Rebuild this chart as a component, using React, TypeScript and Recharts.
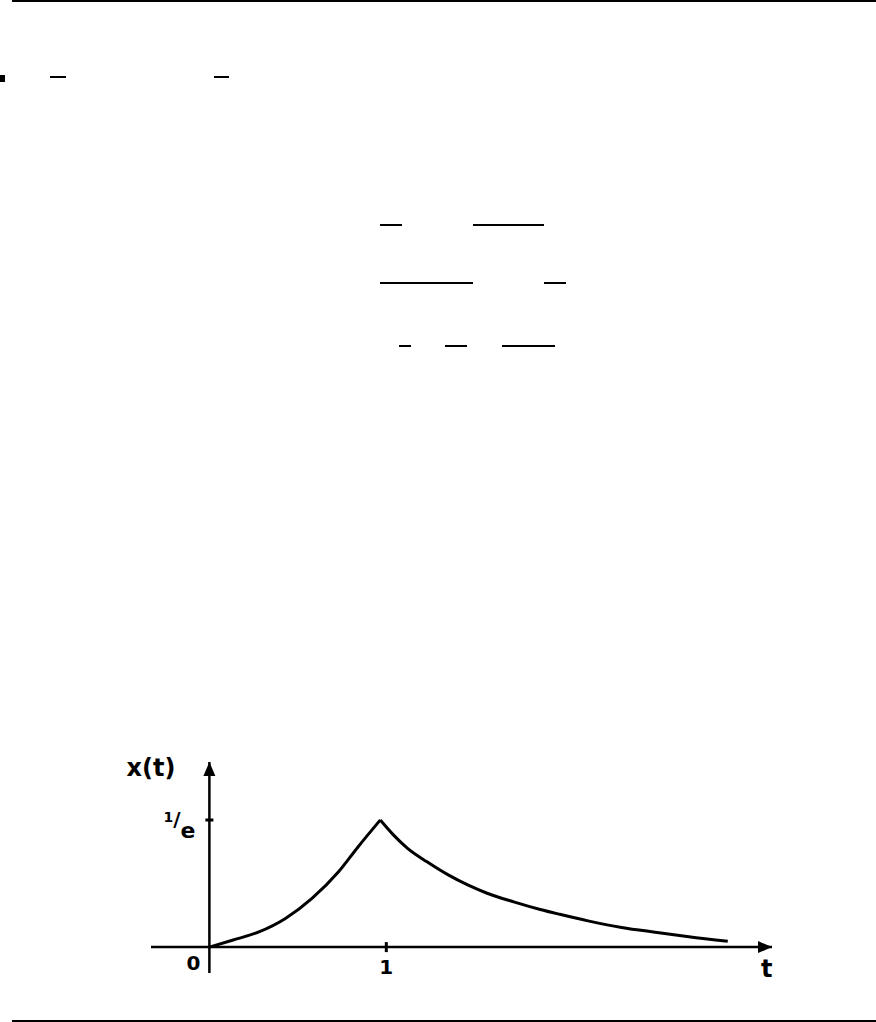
import React from "react";
import {
  ComposedChart,
  Line,
  XAxis,
  YAxis,
  ReferenceLine,
  ReferenceDot,
} from "recharts";

// sketch: x(t) rises to 1/e at t = 1, then decays
const riseT = [0, 0.13, 0.28, 0.43, 0.58, 0.73, 0.84, 0.966];
const riseX = [0, 0.02, 0.044, 0.083, 0.141, 0.218, 0.29, 0.368];
const fallT = [0.966, 1.04, 1.12, 1.23, 1.35, 1.46, 1.57, 1.72, 1.87, 1.98, 2.14, 2.33, 2.52, 2.71, 2.93];
const fallX = [0.368, 0.325, 0.286, 0.247, 0.209, 0.18, 0.156, 0.131, 0.109, 0.095, 0.076, 0.057, 0.043, 0.03, 0.017];

const tDomain: [number, number] = [-0.33, 3.18];
const xDomain: [number, number] = [-0.075, 0.536];
const peakValue = 0.368;

const rise = riseT.map((t, i) => ({ t, x: riseX[i] }));
const fall = fallT.map((t, i) => ({ t, x: fallX[i] }));

// leftover rules of the scanned page (text removed)
const rules = [
  { left: 50, top: 76, width: 16 },
  { left: 214, top: 76, width: 15 },
  { left: 380, top: 224, width: 22 },
  { left: 473, top: 224, width: 71 },
  { left: 380, top: 282, width: 93 },
  { left: 544, top: 282, width: 22 },
  { left: 399, top: 345, width: 12 },
  { left: 445, top: 345, width: 22 },
  { left: 502, top: 345, width: 53 },
];

const hand = { fontFamily: "DejaVu Sans", fontWeight: 700, fill: "#000" };

const ArrowUp = (p: any) => (
  <path d={`M${p.cx},${p.cy} L${p.cx - 6},${p.cy + 14} L${p.cx + 6},${p.cy + 14} Z`} fill="#000" />
);
const ArrowRight = (p: any) => (
  <path d={`M${p.cx},${p.cy} L${p.cx - 14},${p.cy - 6} L${p.cx - 14},${p.cy + 6} Z`} fill="#000" />
);
const YTick = (p: any) => (
  <g>
    <line x1={p.cx - 4} y1={p.cy} x2={p.cx + 4} y2={p.cy} stroke="#000" strokeWidth={3} />
    <text x={p.cx - 46} y={p.cy + 2} {...hand}>
      <tspan fontSize={14}>1</tspan>
      <tspan fontSize={20} dy={4}>/</tspan>
      <tspan fontSize={22} dy={12}>e</tspan>
    </text>
  </g>
);
const XTick = (p: any) => (
  <g>
    <line x1={p.cx} y1={p.cy - 5} x2={p.cx} y2={p.cy + 5} stroke="#000" strokeWidth={3} />
    <text x={p.cx} y={p.cy + 27} fontSize={20} textAnchor="middle" {...hand}>1</text>
  </g>
);
const label = (s: string, size: number) => (p: any) => (
  <text x={p.cx} y={p.cy} fontSize={size} textAnchor="middle" dominantBaseline="central" {...hand}>
    {s}
  </text>
);

export default function App() {
  return (
    <div style={{ position: "absolute", left: 0, top: 0, width: 876, height: 1022, background: "#fff" }}>
      <div style={{ position: "absolute", left: 12, top: 0, width: 864, height: 1.5, background: "#000" }} />
      <div style={{ position: "absolute", left: 0, top: 75, width: 5, height: 7, background: "#000" }} />
      {rules.map((r, i) => (
        <div key={i} style={{ position: "absolute", left: r.left, top: r.top, width: r.width, height: 1.5, background: "#000" }} />
      ))}
      <div style={{ position: "absolute", left: 12, top: 1020, width: 864, height: 1.5, background: "#000" }} />

      <div style={{ position: "absolute", left: 0, top: 0 }}>
        <ComposedChart width={876} height={1022} margin={{ top: 762, right: 104, bottom: 49, left: 151 }}>
          <XAxis type="number" dataKey="t" domain={tDomain} hide allowDataOverflow />
          <YAxis type="number" domain={xDomain} hide allowDataOverflow />
          <ReferenceLine y={0} stroke="#000" strokeWidth={2.5} />
          <ReferenceLine x={0} stroke="#000" strokeWidth={2.5} />
          <ReferenceDot x={0} y={xDomain[1]} r={0} shape={ArrowUp} ifOverflow="visible" />
          <ReferenceDot x={tDomain[1]} y={0} r={0} shape={ArrowRight} ifOverflow="visible" />
          <ReferenceDot x={0} y={peakValue} r={0} shape={YTick} ifOverflow="visible" />
          <ReferenceDot x={1} y={0} r={0} shape={XTick} ifOverflow="visible" />
          <ReferenceDot x={-0.33} y={0.519} r={0} shape={label("x(t)", 24)} ifOverflow="visible" />
          <ReferenceDot x={-0.09} y={-0.045} r={0} shape={label("0", 20)} ifOverflow="visible" />
          <ReferenceDot x={3.15} y={-0.062} r={0} shape={label("t", 24)} ifOverflow="visible" />
          <Line data={rise} dataKey="x" type="monotone" stroke="#000" strokeWidth={3} dot={false} isAnimationActive={false} />
          <Line data={fall} dataKey="x" type="monotone" stroke="#000" strokeWidth={3} dot={false} isAnimationActive={false} />
        </ComposedChart>
      </div>
    </div>
  );
}
